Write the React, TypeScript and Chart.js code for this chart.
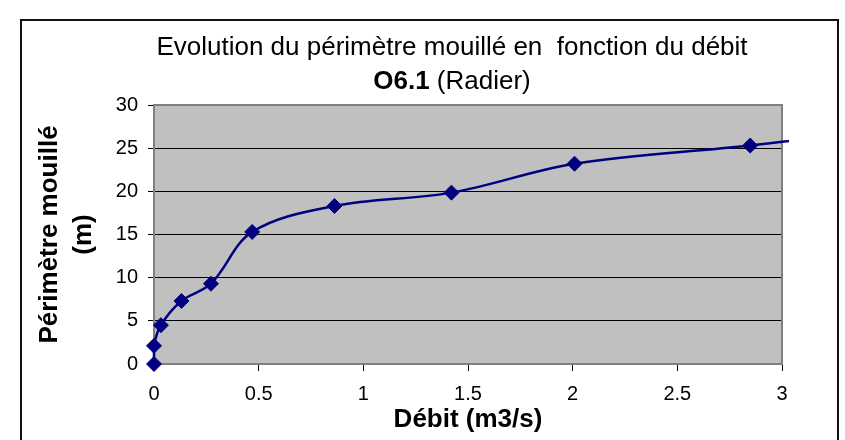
import { useEffect, useRef } from 'react';
import { Chart, registerables } from 'chart.js';

Chart.register(...registerables);

const titleLine1 = 'Evolution du périmètre mouillé en  fonction du débit';
const titleBold = 'O6.1';
const titleRest = ' (Radier)';
const xAxisTitle = 'Débit (m3/s)';
const yAxisTitle = ['Périmètre mouillé', '(m)'];

// Débit (m3/s) — last value continues the curve past the axis end
const debit = [0, 0, 0.033, 0.131, 0.272, 0.469, 0.862, 1.421, 2.009, 2.848, 3.5];
// Périmètre mouillé (m)
const perimetre = [0, 2.1, 4.5, 7.3, 9.3, 15.3, 18.3, 19.85, 23.2, 25.3, 27.2];

const xTickLabels = ['0', '0.5', '1', '1.5', '2', '2.5', '3'];
const yTickLabels = ['0', '5', '10', '15', '20', '25', '30'];

const FONT = '"Liberation Sans", Arial, Helvetica, sans-serif';

const excelPlugin = {
  id: 'excelLook',
  beforeDraw(chart: any) {
    const { ctx, chartArea: a } = chart;
    ctx.save();
    ctx.fillStyle = '#C0C0C0';
    ctx.fillRect(a.left, a.top, a.right - a.left, a.bottom - a.top);
    ctx.restore();
  },
  beforeDatasetsDraw(chart: any) {
    const { ctx, chartArea: a } = chart;
    ctx.save();
    ctx.strokeStyle = '#808080';
    ctx.lineWidth = 2;
    ctx.strokeRect(a.left, a.top, a.right - a.left, a.bottom - a.top);
    ctx.restore();
  },
  afterDraw(chart: any) {
    const { ctx } = chart;
    const cx = 452;
    ctx.save();
    ctx.fillStyle = '#000';
    ctx.textBaseline = 'alphabetic';
    ctx.textAlign = 'center';
    ctx.font = `26px ${FONT}`;
    ctx.fillText(titleLine1, cx, 55);
    ctx.textAlign = 'left';
    ctx.font = `bold 26px ${FONT}`;
    const wb = ctx.measureText(titleBold).width;
    ctx.font = `26px ${FONT}`;
    const wr = ctx.measureText(titleRest).width;
    const x0 = cx - (wb + wr) / 2;
    ctx.font = `bold 26px ${FONT}`;
    ctx.fillText(titleBold, x0, 89);
    ctx.font = `26px ${FONT}`;
    ctx.fillText(titleRest, x0 + wb, 89);
    ctx.restore();
  },
};

export default function App() {
  const ref = useRef<HTMLCanvasElement | null>(null);

  useEffect(() => {
    document.body.style.overflow = 'hidden';
    if (!ref.current) return;
    const points = debit.map((x, i) => ({ x, y: perimetre[i] }));
    const radii = perimetre.map((_, i) => (i === perimetre.length - 1 ? 0 : 7.5));
    const chart = new Chart(ref.current, {
      type: 'scatter',
      data: {
        datasets: [
          {
            data: points,
            showLine: true,
            tension: 0.35,
            borderColor: '#000080',
            borderWidth: 2.5,
            backgroundColor: '#000080',
            pointStyle: 'rectRot',
            pointRadius: radii,
            pointHoverRadius: radii,
            pointBorderWidth: 1,
            pointBorderColor: '#000080',
            pointBackgroundColor: '#000080',
            clip: { left: 10, top: 10, right: 7, bottom: 10 } as any,
          },
        ],
      },
      plugins: [excelPlugin],
      options: {
        animation: false,
        responsive: true,
        maintainAspectRatio: false,
        events: [],
        layout: { padding: { left: 0, top: 105, right: 63, bottom: 0 } },
        plugins: {
          legend: { display: false },
          tooltip: { enabled: false },
          title: { display: false },
        },
        scales: {
          x: {
            type: 'linear',
            min: 0,
            max: 3,
            afterFit(scale: any) {
              scale.height = 76;
            },
            ticks: {
              stepSize: 0.5,
              padding: 11,
              color: '#000',
              font: { family: FONT, size: 20 },
              callback: (_v: any, i: number) => xTickLabels[i],
            },
            grid: {
              drawOnChartArea: false,
              drawTicks: true,
              tickLength: 7,
              color: '#000',
              tickColor: '#000',
            },
            border: { display: false },
            title: {
              display: true,
              text: xAxisTitle,
              color: '#000',
              font: { family: FONT, size: 26, weight: 'bold', lineHeight: 1.2 },
              padding: { top: 0, bottom: 5 },
            },
          },
          y: {
            type: 'linear',
            min: 0,
            max: 30,
            afterFit(scale: any) {
              scale.width = 154;
            },
            ticks: {
              stepSize: 5,
              padding: 10,
              color: '#000',
              font: { family: FONT, size: 20 },
              callback: (_v: any, i: number) => yTickLabels[i],
            },
            grid: {
              drawOnChartArea: true,
              drawTicks: true,
              tickLength: 6,
              color: '#000',
              tickColor: '#000',
              lineWidth: 1,
            },
            border: { display: false },
            title: {
              display: true,
              text: yAxisTitle,
              color: '#000',
              font: { family: FONT, size: 26, weight: 'bold', lineHeight: 1.3 },
              padding: { top: 33, bottom: 0 },
            },
          },
        },
      },
    });
    return () => chart.destroy();
  }, []);

  return (
    <>
      <div
        style={{
          position: 'absolute',
          left: 20,
          top: 19,
          width: 819,
          height: 421,
          border: '2px solid #111',
          borderBottom: 'none',
          boxSizing: 'border-box',
        }}
      />
      <div style={{ position: 'absolute', left: 0, top: 0, width: 845, height: 440 }}>
        <canvas ref={ref} />
      </div>
    </>
  );
}
